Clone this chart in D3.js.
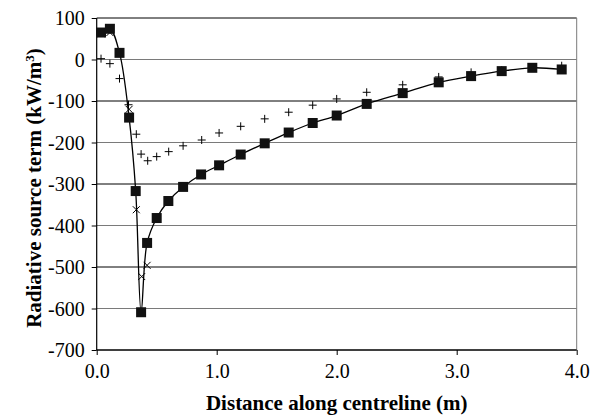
<!DOCTYPE html>
<html><head><meta charset="utf-8">
<script src="https://cdn.jsdelivr.net/npm/d3@7"></script>
<style>body{margin:0;background:#fff}svg{display:block}svg text{font-family:'Liberation Serif','Times New Roman',serif}</style>
</head><body><svg id="c" width="602" height="415"></svg>
<script>
const squareX = [0.036,0.11,0.19,0.27,0.325,0.37,0.42,0.5,0.597,0.72,0.87,1.02,1.20,1.40,1.60,1.80,2.0,2.25,2.55,2.85,3.12,3.375,3.63,3.875];
const squareY = [65,74,16,-140,-317,-609,-442,-382,-341,-307,-277,-255,-229,-202,-176,-153,-135,-107,-81,-55,-40,-28,-20,-24];
const plusX = [0.036,0.11,0.19,0.265,0.33,0.37,0.425,0.5,0.6,0.72,0.875,1.02,1.2,1.4,1.6,1.8,2.0,2.25,2.55,2.85,3.12,3.375,3.63,3.875];
const plusY = [2,-10,-46,-109,-180,-228,-244,-234,-222,-208,-194,-177,-161,-143,-127,-110,-95,-79,-61,-42,-31,-26,-19,-15];
const crossX = [0.036,0.11,0.19,0.27,0.33,0.375,0.42];
const crossY = [62,65,15,-120,-362,-523,-496];
const yTicks = [100,0,-100,-200,-300,-400,-500,-600,-700];
const xTicks = [0,1,2,3,4];

const svg = d3.select("#c");
const L=96.7,R=576.7,T=18,B=350;
const x = d3.scaleLinear().domain([0,4]).range([L,R]);
const y = d3.scaleLinear().domain([-700,100]).range([B,T]);
const font = "'Liberation Serif','Times New Roman',serif";

// gridlines
yTicks.forEach((t,i)=>{
  svg.append("line").attr("x1",L).attr("x2",R).attr("y1",y(t)).attr("y2",y(t))
    .attr("stroke", i%2===0 ? "#000" : "#7a7a7a").attr("stroke-width",1);
});
svg.append("line").attr("x1",R).attr("x2",R).attr("y1",T).attr("y2",B).attr("stroke","#7a7a7a");

// axes
const yAxis = d3.axisLeft(y).tickValues(yTicks).tickSize(5).tickPadding(7).tickFormat(d=>String(d));
const gy = svg.append("g").attr("transform",`translate(${L},0)`).call(yAxis);
const xAxis = d3.axisBottom(x).tickValues(xTicks).tickSize(5).tickPadding(9).tickFormat(d=>d.toFixed(1));
const gx = svg.append("g").attr("transform",`translate(0,${B})`).call(xAxis);
[gx,gy].forEach(g=>{
  g.attr("font-family",font).attr("font-size",20);
  g.select(".domain").attr("stroke","#000").attr("stroke-width",1.2);
  g.selectAll(".tick line").attr("stroke","#000");
  g.selectAll("text").style("font-family",font).style("font-size","20px").attr("fill","#000");
});
gy.select(".domain").attr("d",`M0,${T}V${B}`);
gx.select(".domain").attr("d",`M${L},0H${R}`);
gy.selectAll(".tick text").attr("dy","0.33em");

// titles
svg.append("text").attr("x",(L+R)/2).attr("y",410).attr("text-anchor","middle")
  .style("font-family",font).attr("font-weight","bold").style("font-size","21px")
  .text("Distance along centreline (m)");
const yt = svg.append("text").attr("transform",`translate(41,${(T+B)/2+4}) rotate(-90)`)
  .attr("text-anchor","middle").style("font-family",font).attr("font-weight","bold").style("font-size","21px");
yt.append("tspan").text("Radiative source term (kW/m");
yt.append("tspan").attr("baseline-shift","super").style("font-size","13px").text("3");
yt.append("tspan").text(")");

// smooth line
const sq = squareX.map((d,i)=>[d,squareY[i]]);
const line = d3.line().x(d=>x(d[0])).y(d=>y(d[1])).curve(d3.curveCatmullRom.alpha(0.5));
svg.append("path").attr("d",line(sq)).attr("fill","none").attr("stroke","#000").attr("stroke-width",1.3);

// plus markers
const pl = plusX.map((d,i)=>[d,plusY[i]]);
svg.append("g").selectAll("path").data(pl).join("path")
  .attr("d",d=>{const cx=x(d[0]),cy=y(d[1]);return `M${cx-4},${cy}H${cx+4}M${cx},${cy-4}V${cy+4}`;})
  .attr("stroke","#000").attr("stroke-width",1);

// cross markers
const cr = crossX.map((d,i)=>[d,crossY[i]]);
svg.append("g").selectAll("path").data(cr).join("path")
  .attr("d",d=>{const cx=x(d[0]),cy=y(d[1]);return `M${cx-3.5},${cy-3.5}L${cx+3.5},${cy+3.5}M${cx-3.5},${cy+3.5}L${cx+3.5},${cy-3.5}`;})
  .attr("stroke","#000").attr("stroke-width",1);

// squares
svg.append("g").selectAll("rect").data(sq).join("rect")
  .attr("x",d=>x(d[0])-5).attr("y",d=>y(d[1])-5).attr("width",10).attr("height",10)
  .attr("fill","#111");
</script></body></html>
